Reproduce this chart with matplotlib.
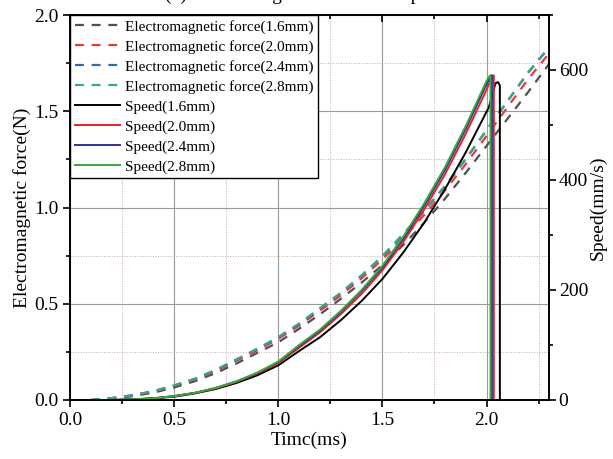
import matplotlib
matplotlib.use("Agg")
import matplotlib.pyplot as plt
from matplotlib.ticker import MultipleLocator

plt.rcParams['font.family'] = ['Liberation Serif', 'DejaVu Serif']
plt.rcParams['mathtext.fontset'] = 'stix'

# ---------------- data ----------------
t_force = [0.1, 0.2, 0.3, 0.4, 0.5, 0.6, 0.7, 0.8, 0.9, 1.0, 1.1, 1.2,
           1.3, 1.4, 1.5, 1.6, 1.7, 1.8, 1.9, 2.0, 2.1, 2.2, 2.3]
force_16 = [0.0, 0.005, 0.02, 0.038, 0.065, 0.098, 0.14, 0.19, 0.245, 0.30, 0.37, 0.445,
            0.525, 0.61, 0.70, 0.805, 0.92, 1.045, 1.18, 1.32, 1.46, 1.60, 1.745]
force_20 = [0.0, 0.008, 0.023, 0.043, 0.072, 0.106, 0.15, 0.204, 0.258, 0.318, 0.386, 0.464,
            0.543, 0.632, 0.73, 0.843, 0.96, 1.088, 1.225, 1.372, 1.52, 1.667, 1.80]
force_24 = [0.0, 0.01, 0.025, 0.045, 0.075, 0.11, 0.155, 0.21, 0.265, 0.325, 0.395, 0.475,
            0.555, 0.645, 0.745, 0.86, 0.98, 1.11, 1.25, 1.40, 1.55, 1.70, 1.83]
force_28 = [0.0, 0.01, 0.025, 0.046, 0.076, 0.111, 0.157, 0.212, 0.267, 0.327, 0.397, 0.477,
            0.557, 0.648, 0.748, 0.863, 0.983, 1.113, 1.253, 1.403, 1.553, 1.703, 1.833]

t_speed_16 = [0.1, 0.2, 0.3, 0.4, 0.5, 0.6, 0.7, 0.8, 0.9, 1.0, 1.1, 1.2, 1.3, 1.4,
              1.5, 1.6, 1.7, 1.8, 1.9, 2.0, 2.011, 2.043, 2.055, 2.064, 2.064]
speed_16 = [0, 0, 1, 3, 6, 12, 20, 31, 45, 63, 89, 114, 145, 180,
            220, 268, 322, 383, 450, 524, 532, 576, 578, 572, 0]
t_speed_20 = [0.1, 0.2, 0.3, 0.4, 0.5, 0.6, 0.7, 0.8, 0.9, 1.0, 1.1, 1.2, 1.3, 1.4,
              1.5, 1.6, 1.7, 1.8, 1.9, 2.0, 2.028, 2.035, 2.035]
speed_20 = [0, 0, 1, 3, 7, 13, 21, 33, 48, 67, 95, 123, 156, 193,
            236, 287, 346, 410, 484, 564, 590, 590, 0]
t_speed_24 = [0.1, 0.2, 0.3, 0.4, 0.5, 0.6, 0.7, 0.8, 0.9, 1.0, 1.1, 1.2, 1.3, 1.4,
              1.5, 1.6, 1.7, 1.8, 1.9, 2.0, 2.022, 2.026, 2.026]
speed_24 = [0, 0, 1, 3, 7, 13, 22, 34, 49, 69, 98, 126, 160, 198,
            241, 293, 353, 418, 493, 574, 590, 590, 0]
t_speed_28 = [0.1, 0.2, 0.3, 0.4, 0.5, 0.6, 0.7, 0.8, 0.9, 1.0, 1.1, 1.2, 1.3, 1.4,
              1.5, 1.6, 1.7, 1.8, 1.9, 2.0, 2.016, 2.019, 2.019]
speed_28 = [0, 0, 1, 3, 7, 13, 22, 34, 50, 70, 100, 128, 162, 200,
            244, 297, 357, 423, 498, 580, 590, 590, 0]

labels = ['1.6mm', '2.0mm', '2.4mm', '2.8mm']
force_colors = ['#505050', '#e8393f', '#3a67a8', '#3aa884']
speed_colors = ['#000000', '#ee1c25', '#2e3192', '#3aa83a']

# ---------------- figure ----------------
fig = plt.figure(figsize=(6.13, 4.59), dpi=100)
ax = fig.add_axes([70 / 613, 1 - 400 / 459, (549 - 70) / 613, (400 - 15) / 459])
ax2 = ax.twinx()

handles = []
for f, c, lab in zip([force_16, force_20, force_24, force_28], force_colors, labels):
    h, = ax.plot(t_force, f, color=c, lw=1.6, dashes=(4, 3.5),
                 label='Electromagnetic force(' + lab + ')')
    handles.append(h)

for ts, s, c, lab in zip([t_speed_16, t_speed_20, t_speed_24, t_speed_28],
                         [speed_16, speed_20, speed_24, speed_28], speed_colors, labels):
    h, = ax2.plot(ts, s, color=c, lw=1.4, label='Speed(' + lab + ')')
    handles.append(h)

ax.set_xlim(0, 2.3)
ax.set_ylim(0, 2.0)
ax2.set_ylim(0, 700)

ax.xaxis.set_major_locator(MultipleLocator(0.5))
ax.xaxis.set_minor_locator(MultipleLocator(0.25))
ax.yaxis.set_major_locator(MultipleLocator(0.5))
ax.yaxis.set_minor_locator(MultipleLocator(0.25))
ax2.yaxis.set_major_locator(MultipleLocator(200))
ax2.yaxis.set_minor_locator(MultipleLocator(100))
ax.xaxis.set_major_formatter(matplotlib.ticker.FormatStrFormatter('%.1f'))
ax.yaxis.set_major_formatter(matplotlib.ticker.FormatStrFormatter('%.1f'))

ax.grid(which='major', color='#9a9a9a', lw=0.8, ls='-')
ax.grid(which='minor', color='#c9a9a9', lw=0.7, ls=':')
ax.set_axisbelow(True)

ax.tick_params(axis='both', which='both', labelsize=14, width=1.2)
ax.tick_params(axis='x', which='both', direction='out', top=True, labeltop=False)
ax.tick_params(axis='x', which='major', length=5)
ax.tick_params(axis='x', which='minor', length=3)
ax.tick_params(axis='y', which='major', direction='out', length=5)
ax.tick_params(axis='y', which='minor', direction='out', length=3)
# top ticks inward
for tk in ax.xaxis.get_major_ticks() + ax.xaxis.get_minor_ticks():
    tk.tick2line.set_marker(matplotlib.lines.TICKDOWN)
ax2.tick_params(axis='y', which='both', labelsize=14, direction='out', width=1.2, pad=2)
ax2.tick_params(axis='y', which='major', length=5)
ax2.tick_params(axis='y', which='minor', length=3)

for sp in list(ax.spines.values()) + list(ax2.spines.values()):
    sp.set_linewidth(1.2)

ax.set_xlabel('Timc(ms)', fontsize=14, labelpad=2)
ax.set_ylabel('Electromagnetic force(N)', fontsize=14, labelpad=2)
ax2.set_ylabel('Speed(mm/s)', fontsize=14, labelpad=1)

leg = ax2.legend(handles=handles, loc='upper left', bbox_to_anchor=(0, 1),
                 borderaxespad=0, fontsize=11, frameon=True, fancybox=False,
                 edgecolor='black', framealpha=1, handlelength=3.0,
                 handletextpad=0.3, labelspacing=0.4, borderpad=0.3)
leg.get_frame().set_linewidth(1.0)

fig.text(0.5, 1.0, '(c) Electromagnetic force and speed', ha='center',
         va='baseline', fontsize=14)

fig.savefig('out.png', dpi=100)
